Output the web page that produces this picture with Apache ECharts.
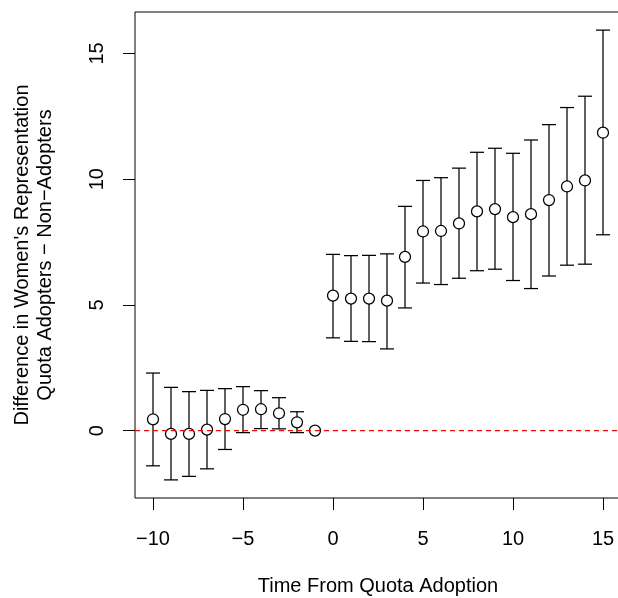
<!DOCTYPE html>
<html>
<head>
<meta charset="utf-8">
<script src="https://cdn.jsdelivr.net/npm/echarts@6/dist/echarts.min.js"></script>
<style>html,body{margin:0;padding:0;background:#fff;}#c{width:618px;height:598px;}</style>
</head>
<body>
<div id="c"></div>
<script>
var years = [-10,-9,-8,-7,-6,-5,-4,-3,-2,-1,0,1,2,3,4,5,6,7,8,9,10,11,12,13,14,15];
var estimate = [0.45,-0.13,-0.13,0.04,0.46,0.83,0.85,0.69,0.33,0.0,5.37,5.25,5.25,5.17,6.91,7.92,7.94,8.24,8.72,8.81,8.49,8.61,9.17,9.71,9.95,11.85];
var lower = [-1.40,-1.96,-1.82,-1.52,-0.75,-0.08,0.08,0.07,-0.08,0.0,3.69,3.55,3.54,3.25,4.88,5.87,5.81,6.06,6.36,6.42,5.97,5.65,6.15,6.58,6.62,7.79];
var upper = [2.29,1.72,1.55,1.60,1.67,1.75,1.59,1.31,0.75,0.0,7.01,6.96,6.97,7.03,8.92,9.95,10.06,10.44,11.07,11.23,11.03,11.56,12.17,12.85,13.30,15.93];
var xTicks = [-10,-5,0,5,10,15];
var yTicks = [0,5,10,15];

var FONT = 'Liberation Sans, Arial, sans-serif';
var chart = echarts.init(document.getElementById('c'), null, {renderer:'canvas'});
function fmt(v){ return String(v).replace('-', '\u2212'); }

var pts = years.map(function(y,i){ return [y, estimate[i]]; });
var bars = years.map(function(y,i){ return [y, lower[i], upper[i]]; });

chart.setOption({
  animation:false,
  backgroundColor:'#fff',
  grid:{left:135, top:12, width:486, height:486, containLabel:false, outerBoundsMode:'none',
    show:true, borderColor:'#000', borderWidth:1, backgroundColor:'transparent'},
  xAxis:{type:'value', min:-11, max:16,
    axisLine:{show:false, onZero:false},
    splitLine:{show:false},
    axisTick:{show:true, length:12, customValues:xTicks, lineStyle:{color:'#000', width:1}},
    axisLabel:{customValues:xTicks, formatter:fmt, margin:31, fontSize:20, color:'#000', fontFamily:FONT},
    name:'Time From Quota Adoption', nameLocation:'middle', nameGap:78,
    nameTextStyle:{fontSize:20, color:'#000', fontFamily:FONT}
  },
  yAxis:{type:'value', min:-2.68, max:16.65,
    axisLine:{show:false, onZero:false},
    splitLine:{show:false},
    axisTick:{show:true, length:12, customValues:yTicks, lineStyle:{color:'#000', width:1}},
    axisLabel:{customValues:yTicks, formatter:fmt, rotate:90, margin:28, fontSize:20, color:'#000', fontFamily:FONT},
    name:'Difference in Women\'s Representation\nQuota Adopters \u2212 Non\u2212Adopters',
    nameLocation:'middle', nameRotate:90, nameGap:78,
    nameTextStyle:{fontSize:20, lineHeight:23, color:'#000', fontFamily:FONT, align:'center'}
  },
  series:[
    {type:'custom', data:bars, z:2,
      renderItem:function(params, api){
        var x = api.value(0), lo = api.value(1), hi = api.value(2);
        if (hi === lo) return null;
        var p1 = api.coord([x, lo]), p2 = api.coord([x, hi]);
        var w = 7;
        var st = {stroke:'#000', lineWidth:1.25};
        return {type:'group', children:[
          {type:'line', shape:{x1:p1[0], y1:p1[1], x2:p2[0], y2:p2[1]}, style:st},
          {type:'line', shape:{x1:p1[0]-w, y1:p1[1], x2:p1[0]+w, y2:p1[1]}, style:st},
          {type:'line', shape:{x1:p2[0]-w, y1:p2[1], x2:p2[0]+w, y2:p2[1]}, style:st}
        ]};
      },
      markLine:{silent:true, symbol:'none', label:{show:false},
        lineStyle:{color:'#ff0000', type:[5,4], width:1.25},
        data:[{yAxis:0}]}
    },
    {type:'scatter', data:pts, z:3, symbol:'circle', symbolSize:11,
      itemStyle:{color:'#fff', borderColor:'#000', borderWidth:1.25, opacity:1}}
  ]
});
</script>
</body>
</html>
